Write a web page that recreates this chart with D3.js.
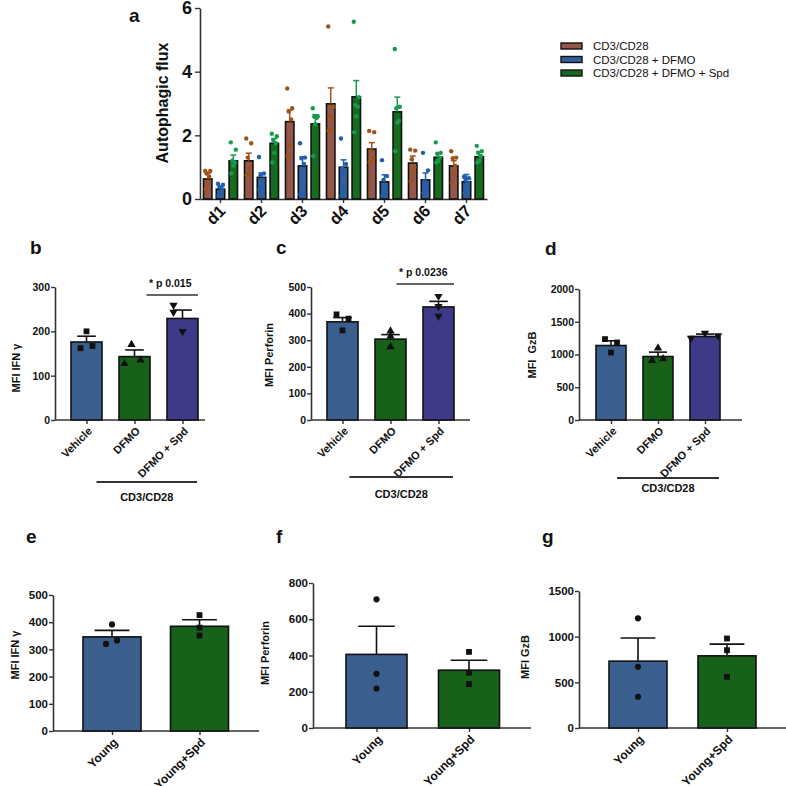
<!DOCTYPE html>
<html>
<head>
<meta charset="utf-8">
<script src="https://cdn.jsdelivr.net/npm/d3@7"></script>
<style>
  body { margin: 0; background: #fff; }
  svg { display: block; }
  text { font-family: "Liberation Sans", Arial, Helvetica, sans-serif; fill: #111; }
</style>
</head>
<body>
<svg id="fig" width="786" height="786"></svg>
<script>
// ---- panel a data ----
const days = ["d1", "d2", "d3", "d4", "d5", "d6", "d7"];
const fluxGroups = ["CD3/CD28", "CD3/CD28 + DFMO", "CD3/CD28 + DFMO + Spd"];
const fluxMeanCD = [0.63, 1.2, 2.43, 2.99, 1.57, 1.13, 1.04];
const fluxMeanDFMO = [0.31, 0.68, 1.04, 1.0, 0.54, 0.6, 0.54];
const fluxMeanSpd = [1.2, 1.75, 2.36, 3.21, 2.74, 1.31, 1.33];
const fluxSemCD = [0.17, 0.24, 0.37, 0.5, 0.2, 0.22, 0.16];
const fluxSemDFMO = [0.07, 0.14, 0.29, 0.23, 0.22, 0.22, 0.23];
const fluxSemSpd = [0.18, 0.15, 0.29, 0.51, 0.46, 0.12, 0.16];
const fluxPtsCD = [
  [0.88, 0.88, 0.8, 0.7, 0.5, 0.3], [1.9, 1.75, 1.3, 0.95, 0.75, 0.75],
  [3.47, 2.85, 2.75, 2.5, 1.7, 1.35], [5.42, 2.9, 2.6, 2.55, 2.2, 2.15],
  [2.14, 2.1, 1.5, 1.3, 1.2, 1.15], [1.55, 1.52, 1.25, 1.0, 0.8, 0.55],
  [1.5, 1.3, 1.28, 1.05, 0.8, 0.5]];
const fluxPtsDFMO = [
  [0.48, 0.45, 0.38, 0.3, 0.2, 0.1], [1.32, 0.8, 0.75, 0.6, 0.4, 0.3],
  [1.75, 1.3, 1.28, 1.1, 0.2, 0.15], [1.9, 1.1, 0.95, 0.85, 0.3, 0.1],
  [1.22, 0.72, 0.6, 0.4, 0.2, 0.1], [1.45, 0.9, 0.55, 0.45, 0.3, 0.2],
  [0.7, 0.65, 0.6, 0.5, 0.35, 0.2]];
const fluxPtsSpd = [
  [1.78, 1.55, 1.2, 1.15, 1.05, 0.8], [2.05, 1.97, 1.85, 1.75, 1.45, 1.15],
  [2.85, 2.6, 2.58, 2.55, 2.35, 1.35], [5.57, 3.2, 2.95, 2.9, 2.6, 2.1],
  [4.71, 2.9, 2.85, 2.45, 2.4, 1.5], [1.78, 1.45, 1.42, 1.3, 1.2, 1.15],
  [1.67, 1.5, 1.45, 1.35, 1.2, 1.15]];
const fluxTicks = [0, 2, 4, 6];

// ---- panels b-d data ----
const treatments = ["Vehicle", "DFMO", "DFMO + Spd"];
const ifnTreatMean = [176, 143, 229];
const ifnTreatSem = [13, 15, 19];
const ifnTreatPts = [[200, 162, 167], [170, 127, 135], [259, 243, 200]];
const perfTreatMean = [369, 304, 425];
const perfTreatSem = [16, 17, 21];
const perfTreatPts = [[397, 381, 337], [334, 315, 275], [465, 427, 390]];
const gzbTreatMean = [1137, 969, 1275];
const gzbTreatSem = [72, 67, 36];
const gzbTreatPts = [[1235, 1183, 1030], [1097, 908, 934], [1327, 1250, 1286]];
const stimLabel = "CD3/CD28";
const sigLabels = ["* p 0.015", "* p 0.0236"];

// ---- panels e-g data ----
const ageGroups = ["Young", "Young+Spd"];
const ifnAgeMean = [346, 385];
const ifnAgeSem = [24, 24];
const ifnAgePts = [[392, 320, 333], [426, 380, 351]];
const perfAgeMean = [406, 319];
const perfAgeSem = [155, 55];
const perfAgePts = [[710, 299, 218], [420, 305, 242]];
const gzbAgeMean = [732, 790];
const gzbAgeSem = [254, 128];
const gzbAgePts = [[1201, 670, 342], [980, 852, 560]];

const svg = d3.select("#fig");
const axisColor = "#333";

function styleAxis(g, fontSize) {
  g.select(".domain").attr("stroke", axisColor).attr("stroke-width", 1.6);
  g.selectAll(".tick line").attr("stroke", axisColor).attr("stroke-width", 1.4);
  g.selectAll(".tick text")
    .attr("fill", "#111")
    .attr("font-size", fontSize + "px")
    .style("font-weight", "bold")
    .attr("font-family", '"Liberation Sans", Arial, sans-serif');
}

// rotate the category labels of a bottom axis by -45deg, ending at the tick
function slantLabels(axisG, dx, dy) {
  axisG.selectAll(".tick text")
    .attr("x", 0).attr("y", 0)
    .attr("dy", "0.35em")
    .attr("text-anchor", "end")
    .attr("transform", `translate(${dx},${dy}) rotate(-45)`);
}

// ================= panel a =================
const barColA = ["#94574a", "#31609e", "#176b1e"];
const dotColA = ["#a0521d", "#1f5fab", "#17994f"];
const meansA = [fluxMeanCD, fluxMeanDFMO, fluxMeanSpd];
const semsA = [fluxSemCD, fluxSemDFMO, fluxSemSpd];
const ptsA = [fluxPtsCD, fluxPtsDFMO, fluxPtsSpd];

const xA = d3.scaleBand().domain(days).range([200, 487]);
const subA = d3.scaleBand().domain(d3.range(3)).range([3.5, 37.5]).paddingInner(0.34);
const yA = d3.scaleLinear().domain([0, 6]).range([199, 8]);

const gA = svg.append("g");
gA.append("g")
  .attr("transform", "translate(200,0)")
  .call(d3.axisLeft(yA).tickValues(fluxTicks).tickFormat(d3.format("d"))
    .tickSize(5).tickSizeOuter(0).tickPadding(3))
  .call((g) => styleAxis(g, 18));

const xAxA = gA.append("g")
  .attr("transform", "translate(0,199)")
  .call(d3.axisBottom(xA).tickSize(4).tickSizeOuter(0))
  .call((g) => styleAxis(g, 16.5));
slantLabels(xAxA, 2, 9);

const jitA = [-2.5, 2.5, -1, 1.5, 0, -2];
meansA.forEach((means, s) => {
  days.forEach((d, i) => {
    const x0 = xA(d) + subA(s);
    const w = subA.bandwidth();
    const cx = x0 + w / 2;
    gA.append("rect")
      .attr("x", x0).attr("y", yA(means[i]))
      .attr("width", w).attr("height", yA(0) - yA(means[i]))
      .attr("fill", barColA[s]).attr("stroke", "#111").attr("stroke-width", 1.6);
    const top = yA(means[i] + semsA[s][i]);
    gA.append("line")
      .attr("x1", cx).attr("x2", cx).attr("y1", yA(means[i])).attr("y2", top)
      .attr("stroke", dotColA[s]).attr("stroke-width", 1.5);
    gA.append("line")
      .attr("x1", cx - 3).attr("x2", cx + 3).attr("y1", top).attr("y2", top)
      .attr("stroke", dotColA[s]).attr("stroke-width", 1.5);
    gA.selectAll(null).data(ptsA[s][i]).enter().append("circle")
      .attr("cx", (v, k) => cx + jitA[k])
      .attr("cy", (v) => yA(v))
      .attr("r", 2.2)
      .attr("fill", dotColA[s]);
  });
});

gA.append("text")
  .attr("transform", "translate(162,103) rotate(-90)")
  .attr("text-anchor", "middle")
  .attr("dy", "0.35em")
  .attr("font-size", "16px")
  .style("font-weight", "bold")
  .text("Autophagic flux");

gA.append("text").attr("x", 129).attr("y", 22).attr("font-size", "19px")
  .style("font-weight", "bold").text("a");

const legend = gA.append("g").attr("transform", "translate(561,46)");
fluxGroups.forEach((name, s) => {
  legend.append("rect")
    .attr("x", 0).attr("y", s * 13.5 - 3)
    .attr("width", 21).attr("height", 6)
    .attr("fill", barColA[s]).attr("stroke", "#111").attr("stroke-width", 1.4);
  legend.append("text")
    .attr("x", 32).attr("y", s * 13.5)
    .attr("dy", "0.35em")
    .attr("font-size", "11.5px")
    .style("font-weight", "normal")
    .text(name);
});

// ================= panels b-g =================
const treatColors = ["#3a5f8f", "#17611a", "#3e3a88"];
const ageColors = ["#3a5f8f", "#17611a"];
const treatShapes = ["square", "up", "down"];
const ageShapes = ["circle", "square"];

function marker(type) {
  if (type === "square") return d3.symbol(d3.symbolSquare, 34)();
  if (type === "circle") return d3.symbol(d3.symbolCircle, 30)();
  return d3.symbol(d3.symbolTriangle, 30)();
}

function barPanel(cfg) {
  const g = svg.append("g");
  const y = d3.scaleLinear().domain([0, cfg.max]).range([cfg.yBot, cfg.yTop]);
  const x = d3.scalePoint().domain(cfg.cats).range([cfg.c0, cfg.c1]);
  const w = cfg.barW;

  g.append("g")
    .attr("transform", `translate(${cfg.ax},0)`)
    .call(d3.axisLeft(y).tickValues(d3.range(0, cfg.max + 1, cfg.step)).tickFormat(d3.format("d"))
      .tickSize(4).tickSizeOuter(0).tickPadding(1))
    .call((a) => styleAxis(a, cfg.fs));

  const xa = g.append("g")
    .attr("transform", `translate(0,${cfg.yBot})`)
    .call(d3.axisBottom(x).tickSize(4).tickSizeOuter(0))
    .call((a) => styleAxis(a, cfg.fs + 0.5));
  xa.select(".domain").remove();
  slantLabels(xa, 3, 9);
  g.append("line")
    .attr("x1", cfg.ax).attr("x2", cfg.axEnd)
    .attr("y1", cfg.yBot).attr("y2", cfg.yBot)
    .attr("stroke", axisColor).attr("stroke-width", 1.6);

  cfg.cats.forEach((c, i) => {
    const cx = x(c);
    g.append("rect")
      .attr("x", cx - w / 2).attr("y", y(cfg.mean[i]))
      .attr("width", w).attr("height", y(0) - y(cfg.mean[i]))
      .attr("fill", cfg.colors[i]).attr("stroke", "#111").attr("stroke-width", 1.6);
    const top = y(cfg.mean[i] + cfg.sem[i]);
    g.append("line")
      .attr("x1", cx).attr("x2", cx).attr("y1", y(cfg.mean[i])).attr("y2", top)
      .attr("stroke", "#111").attr("stroke-width", 1.6);
    g.append("line")
      .attr("x1", cx - w * 0.3).attr("x2", cx + w * 0.3).attr("y1", top).attr("y2", top)
      .attr("stroke", "#111").attr("stroke-width", 1.6);
    g.selectAll(null).data(cfg.pts[i]).enter().append("path")
      .attr("d", marker(cfg.shapes[i]))
      .attr("transform", (v, k) => `translate(${cx + cfg.jitter[i][k]},${y(v)})` +
        (cfg.shapes[i] === "down" ? " rotate(180)" : ""))
      .attr("fill", "#111");
  });

  g.append("text")
    .attr("transform", `translate(${cfg.labX},${cfg.labY}) rotate(-90)`)
    .attr("text-anchor", "middle")
    .attr("dy", "0.35em")
    .attr("font-size", "11px")
    .style("font-weight", "bold")
    .style("white-space", "pre")
    .text(cfg.yLabel);

  g.append("text").attr("x", cfg.letter[1]).attr("y", cfg.letter[2])
    .attr("font-size", "19px").style("font-weight", "bold").text(cfg.letter[0]);

  if (cfg.sig) {
    const x1 = x(cfg.cats[1]) + cfg.sig.dx;
    const x2 = x(cfg.cats[2]) + w / 2;
    g.append("line").attr("x1", x1).attr("x2", x2)
      .attr("y1", cfg.sig.y).attr("y2", cfg.sig.y)
      .attr("stroke", "#333").attr("stroke-width", 1.6);
    g.append("text").attr("x", (x1 + x2) / 2 - 2).attr("y", cfg.sig.y - 8)
      .attr("text-anchor", "middle").attr("font-size", "10.5px")
      .style("font-weight", "bold").text(cfg.sig.text);
  }
  if (cfg.group) {
    const x1 = x(cfg.cats[0]) + cfg.group.dx;
    const x2 = x(cfg.cats[2]) + w / 2 - 1;
    g.append("line").attr("x1", x1).attr("x2", x2)
      .attr("y1", cfg.group.y).attr("y2", cfg.group.y)
      .attr("stroke", "#333").attr("stroke-width", 1.8);
    g.append("text").attr("x", (x1 + x2) / 2).attr("y", cfg.group.ty)
      .attr("text-anchor", "middle").attr("font-size", "11px")
      .style("font-weight", "bold").text(stimLabel);
  }
}

barPanel({
  cats: treatments, mean: ifnTreatMean, sem: ifnTreatSem, pts: ifnTreatPts,
  colors: treatColors, shapes: treatShapes, max: 300, step: 100,
  ax: 55, axEnd: 205, yTop: 287, yBot: 420, c0: 86.5, c1: 182.5, barW: 31, fs: 10.5,
  jitter: [[0, -6, 6], [-3, -10, 6], [-9, -9, 0]],
  yLabel: "MFI IFN \u03b3", labX: 16, labY: 368, letter: ["b", 30, 254],
  sig: { text: sigLabels[0], y: 295, dx: 12 },
  group: { y: 482, ty: 501, dx: 10 }
});

barPanel({
  cats: treatments, mean: perfTreatMean, sem: perfTreatSem, pts: perfTreatPts,
  colors: treatColors, shapes: treatShapes, max: 500, step: 100,
  ax: 311, axEnd: 470, yTop: 287, yBot: 420, c0: 342.5, c1: 438.5, barW: 31, fs: 10.5,
  jitter: [[-6, 6, 0], [0, 0, 0], [0, 0, 0]],
  yLabel: "MFI Perforin", labX: 269, labY: 355, letter: ["c", 276, 254],
  sig: { text: sigLabels[1], y: 284, dx: 6 },
  group: { y: 477, ty: 498, dx: 7 }
});

barPanel({
  cats: treatments, mean: gzbTreatMean, sem: gzbTreatSem, pts: gzbTreatPts,
  colors: treatColors, shapes: treatShapes, max: 2000, step: 500,
  ax: 579, axEnd: 742, yTop: 289, yBot: 420, c0: 611, c1: 705, barW: 30, fs: 10.5,
  jitter: [[-6, 6, 0], [0, -6, 5], [0, -14, 13]],
  yLabel: "MFI  GzB", labX: 532, labY: 355, letter: ["d", 545, 255],
  group: { y: 478, ty: 492, dx: 6 }
});

barPanel({
  cats: ageGroups, mean: ifnAgeMean, sem: ifnAgeSem, pts: ifnAgePts,
  colors: ageColors, shapes: ageShapes, max: 500, step: 100,
  ax: 53, axEnd: 259, yTop: 595, yBot: 731, c0: 112, c1: 199.5, barW: 58, fs: 11.5,
  jitter: [[0, -6, 5], [0, 0, 0]],
  yLabel: "MFI IFN \u03b3", labX: 15, labY: 655, letter: ["e", 26, 543]
});

barPanel({
  cats: ageGroups, mean: perfAgeMean, sem: perfAgeSem, pts: perfAgePts,
  colors: ageColors, shapes: ageShapes, max: 800, step: 200,
  ax: 313, axEnd: 531, yTop: 583, yBot: 728, c0: 376.5, c1: 469, barW: 61, fs: 11.5,
  jitter: [[0, 0, 0], [0, 0, 0]],
  yLabel: "MFI Perforin", labX: 265, labY: 653, letter: ["f", 276, 543]
});

barPanel({
  cats: ageGroups, mean: gzbAgeMean, sem: gzbAgeSem, pts: gzbAgePts,
  colors: ageColors, shapes: ageShapes, max: 1500, step: 500,
  ax: 579, axEnd: 786, yTop: 591, yBot: 728, c0: 638, c1: 727, barW: 58, fs: 11.5,
  jitter: [[0, 0, 0], [0, 0, 0]],
  yLabel: "MFI GzB", labX: 525, labY: 657, letter: ["g", 542, 543]
});
</script>
</body>
</html>
